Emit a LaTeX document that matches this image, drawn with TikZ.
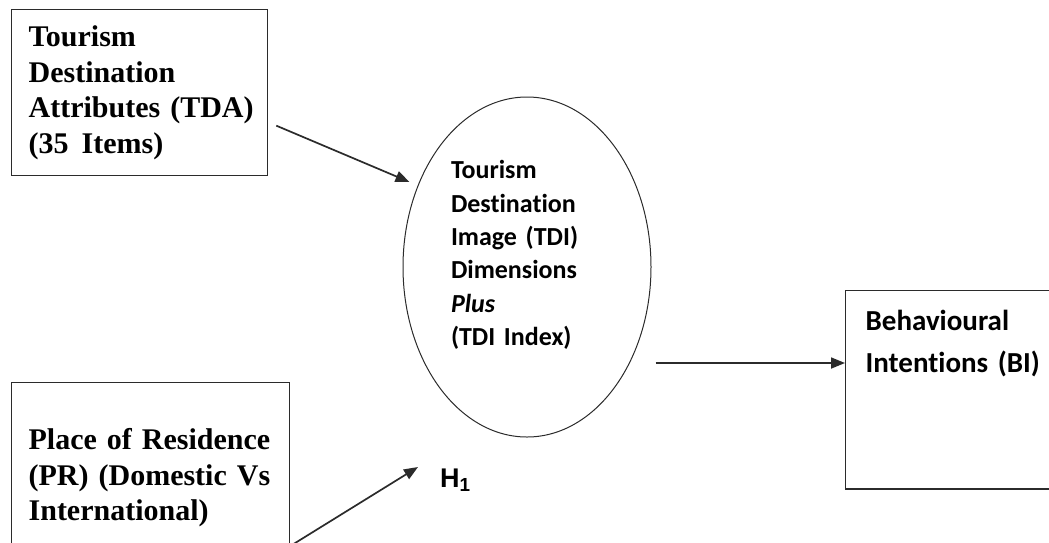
\documentclass[tikz,border=0pt]{standalone}
\usepackage{fontspec}
\setmainfont{Liberation Serif}
\newfontfamily\calfont{Carlito}[Ligatures=NoCommon]
\newfontfamily\arialfont{Liberation Sans}
\usepackage{tikz}
\usetikzlibrary{positioning,arrows.meta,shapes.geometric,calc}
\definecolor{lineink}{HTML}{2B2B2B}

\begin{document}
\begin{tikzpicture}[
  x=1pt, y=-1pt,
  font=\bfseries\fontsize{30}{35.5}\selectfont,
  varbox/.style={draw=lineink, line width=1.3pt, anchor=north west,
    inner xsep=17pt, inner ysep=0pt, text width=#1},
  tdishape/.style={ellipse, draw=lineink, line width=1pt, inner sep=0pt,
    minimum width=248pt, minimum height=340pt, text width=152pt, align=left,
    font=\calfont\bfseries\fontsize{26}{33.4}\selectfont},
  link/.style={-{Triangle[length=14pt, width=11pt]}, line width=1.7pt, draw=lineink},
  ]
  \useasboundingbox (0,0) rectangle (1049,542);
  \clip (0,0) rectangle (1049,542);

  \node[varbox=222pt, minimum height=166pt] (tda) at (11,9)
    {Tourism\\Destination\\\makebox[222pt][s]{Attributes (TDA)}\\(35\hspace{3pt} Items)};
  \node[varbox=244pt, minimum height=190pt] (pr) at (11,382)
    {\makebox[244pt][s]{Place of Residence}\\\makebox[244pt][s]{(PR) (Domestic Vs}\\International)};
  \node[tdishape] (tdi) at (527,267)
    {Tourism\\Destination\\Image (TDI)\\Dimensions\\\textit{Plus}\\(TDI Index)\rule[-28pt]{0pt}{28pt}};
  \node[draw=lineink, line width=1.3pt, anchor=north west, inner xsep=20pt, inner ysep=19pt,
    text width=300pt, font=\calfont\bfseries\fontsize{29}{42}\selectfont] (bi) at (845,290)
    {Behavioural\\Intentions (BI)\rule[-98pt]{0pt}{98pt}};
  \node[anchor=west, inner sep=0pt, font=\arialfont\bfseries\fontsize{27}{30}\selectfont]
    (h1) at (440,480) {H\textsubscript{1}};

  % connectors
  \coordinate (tdaout) at ($(tda.east)+(8,33)$);
  \coordinate (tdiin) at ($(tdi.west)+(7,-85)$);
  \coordinate (biin) at ($(bi.north west)+(0,73)$);
  \coordinate (prout) at ($(pr.north east)+(0,164)$);
  \coordinate (h1tip) at ($(h1.west)+(-22,-13)$);
  \draw[link] (tdaout) -- (tdiin);
  \draw[link] ($(tdi.east |- biin)+(4,0)$) -- (biin);
  \draw[link] (prout) -- (h1tip);
\end{tikzpicture}
\end{document}
